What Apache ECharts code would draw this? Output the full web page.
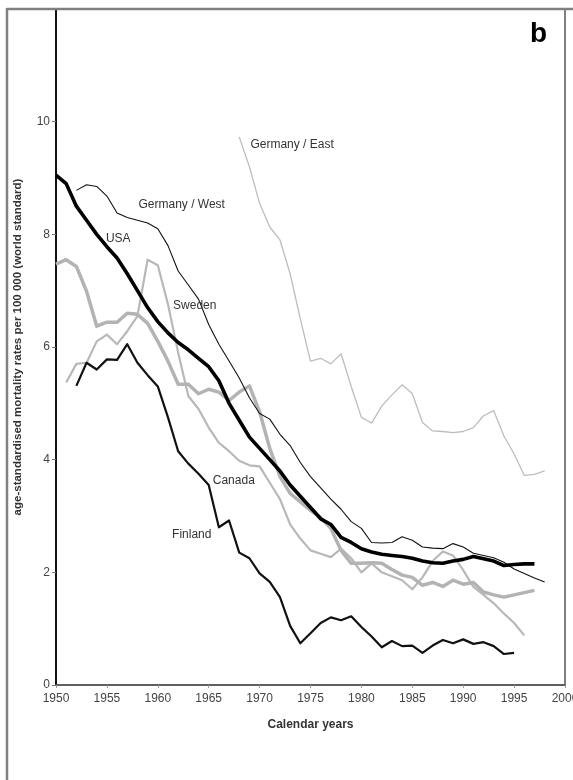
<!DOCTYPE html>
<html>
<head>
<meta charset="utf-8">
<script src="https://cdn.jsdelivr.net/npm/echarts@6/dist/echarts.min.js"></script>
<style>
  html, body { margin: 0; padding: 0; background: #fff; }
  #chart { width: 573px; height: 780px; }
</style>
</head>
<body>
<div id="chart"></div>
<script>
// 各国数据：起始年份 + 逐年数值
const usaStart = 1950
const usa = [9.05, 8.9, 8.5, 8.25, 8.0, 7.78, 7.58, 7.3, 7.0, 6.7,
  6.45, 6.25, 6.08, 5.95, 5.8, 5.65, 5.4, 5.0, 4.7, 4.4,
  4.2, 4.0, 3.8, 3.55, 3.35, 3.15, 2.95, 2.85, 2.62, 2.53,
  2.42, 2.36, 2.32, 2.3, 2.28, 2.25, 2.2, 2.17, 2.16, 2.2,
  2.23, 2.28, 2.24, 2.2, 2.12, 2.14, 2.15, 2.15]

const westStart = 1952
const germanyWest = [8.78, 8.88, 8.85, 8.68, 8.38, 8.3, 8.25, 8.2,
  8.1, 7.8, 7.35, 7.1, 6.85, 6.4, 6.05, 5.75, 5.45, 5.1,
  4.82, 4.72, 4.45, 4.25, 3.95, 3.7, 3.5, 3.3, 3.12, 2.9,
  2.78, 2.53, 2.52, 2.53, 2.63, 2.57, 2.45, 2.43, 2.42, 2.51,
  2.45, 2.34, 2.3, 2.26, 2.18, 2.06, 1.98, 1.9, 1.83]

const eastStart = 1968
const germanyEast = [9.73, 9.2, 8.55, 8.13, 7.9, 7.3, 6.5, 5.75, 5.8, 5.7, 5.88, 5.3,
  4.75, 4.65, 4.95, 5.15, 5.33, 5.17, 4.66, 4.51, 4.5, 4.48,
  4.5, 4.57, 4.78, 4.87, 4.42, 4.1, 3.72, 3.74, 3.8]

const swedenStart = 1950
const sweden = [7.47, 7.55, 7.43, 6.99, 6.37, 6.44, 6.44, 6.6, 6.58, 6.42,
  6.1, 5.75, 5.34, 5.34, 5.17, 5.25, 5.2, 5.05, 5.2, 5.31,
  4.85, 4.2, 3.7, 3.4, 3.25, 3.1, 2.97, 2.78, 2.39, 2.16,
  2.16, 2.17, 2.16, 2.05, 1.95, 1.91, 1.77, 1.82, 1.75, 1.86,
  1.79, 1.82, 1.65, 1.6, 1.56, 1.6, 1.64, 1.68]

const canadaStart = 1951
const canada = [5.37, 5.7, 5.72, 6.1, 6.22, 6.05, 6.28, 6.55, 7.55,
  7.45, 6.76, 5.9, 5.13, 4.9, 4.57, 4.3, 4.15, 3.98, 3.9,
  3.88, 3.59, 3.3, 2.85, 2.6, 2.39, 2.33, 2.27, 2.42, 2.25,
  2.0, 2.16, 2.0, 1.93, 1.86, 1.7, 1.91, 2.2, 2.37, 2.3,
  2.04, 1.74, 1.6, 1.45, 1.27, 1.1, 0.88]

const finlandStart = 1952
const finland = [5.31, 5.72, 5.6, 5.78, 5.77, 6.05, 5.72, 5.5,
  5.3, 4.75, 4.15, 3.93, 3.75, 3.55, 2.8, 2.92, 2.35, 2.25,
  1.98, 1.83, 1.56, 1.05, 0.74, 0.92, 1.1, 1.2, 1.15, 1.22,
  1.03, 0.86, 0.67, 0.78, 0.69, 0.7, 0.57, 0.7, 0.8, 0.74,
  0.81, 0.73, 0.76, 0.69, 0.55, 0.57]

// 线旁的国家标注：[文字, 年份, 数值]
const countryLabels = [
  ['Germany / East', 1969.1, 9.59],
  ['Germany / West', 1958.1, 8.52],
  ['USA', 1954.9, 7.93],
  ['Sweden', 1961.5, 6.73],
  ['Canada', 1965.4, 3.63],
  ['Finland', 1961.4, 2.67],
]

const toPairs = (start, arr) => arr.map((v, i) => [start + i, v])

const chart = echarts.init(document.getElementById('chart'))

const makeLine = (name, start, arr, color, width) => ({
  name: name,
  type: 'line',
  data: toPairs(start, arr),
  showSymbol: false,
  symbol: 'none',
  lineStyle: { color: color, width: width, join: 'round' },
  z: 3,
})

const option = {
  animation: false,
  grid: {
    left: 56, right: 8, top: 9, bottom: 95,
    outerBoundsMode: 'none',
    show: true, borderColor: '#555', borderWidth: 1.5,
  },
  xAxis: {
    type: 'value',
    min: 1950,
    max: 2000,
    interval: 5,
    name: 'Calendar years',
    nameLocation: 'middle',
    nameGap: 34,
    nameTextStyle: { fontFamily: 'Liberation Sans', fontWeight: 'bold', fontSize: 12, color: '#333' },
    axisLine: { lineStyle: { color: '#555', width: 1.5 } },
    axisTick: { length: 3, lineStyle: { color: '#999' } },
    axisLabel: {
      fontFamily: 'Liberation Sans', fontSize: 12, color: '#444', margin: 8,
      formatter: (v) => String(v),
    },
    splitLine: { show: false },
  },
  yAxis: {
    type: 'value',
    min: 0,
    max: 12,
    interval: 2,
    name: 'age-standardised mortality rates per 100 000 (world standard)',
    nameLocation: 'middle',
    nameGap: 32,
    nameTextStyle: { fontFamily: 'Liberation Sans', fontWeight: 'bold', fontSize: 11.5, color: '#333' },
    axisLine: { show: true, lineStyle: { color: '#111', width: 2 } },
    axisTick: { show: true, length: 4, lineStyle: { color: '#777' } },
    axisLabel: {
      fontFamily: 'Liberation Sans', fontSize: 12, color: '#444', margin: 6,
      formatter: (v) => (v === 12 ? '' : String(v)),
    },
    splitLine: { show: false },
  },
  series: [
    makeLine('Germany / East', eastStart, germanyEast, '#bdbdbd', 1.3),
    makeLine('Canada', canadaStart, canada, '#b8b8b8', 2.2),
    makeLine('Sweden', swedenStart, sweden, '#b3b3b3', 3.5),
    makeLine('Finland', finlandStart, finland, '#111', 2.2),
    makeLine('Germany / West', westStart, germanyWest, '#111', 1.1),
    makeLine('USA', usaStart, usa, '#000', 3.6),
  ],
}
chart.setOption(option)

// 标注文字和外框
const texts = countryLabels.map(([t, x, y]) => {
  const p = chart.convertToPixel({ gridIndex: 0 }, [x, y])
  return {
    type: 'text',
    x: p[0],
    y: p[1],
    style: { text: t, font: '12px "Liberation Sans"', fill: '#333', verticalAlign: 'middle' },
    z: 10,
  }
})

chart.setOption({
  graphic: texts.concat([
    { type: 'line', shape: { x1: 7, y1: 9, x2: 573, y2: 9 }, style: { stroke: '#808080', lineWidth: 2.5 }, z: 20 },
    { type: 'line', shape: { x1: 7, y1: 8, x2: 7, y2: 780 }, style: { stroke: '#808080', lineWidth: 2.5 }, z: 20 },
    {
      type: 'text', x: 530, y: 34,
      style: { text: 'b', font: 'bold 28px "Liberation Sans"', fill: '#000', verticalAlign: 'middle' },
      z: 20,
    },
  ]),
})
</script>
</body>
</html>
